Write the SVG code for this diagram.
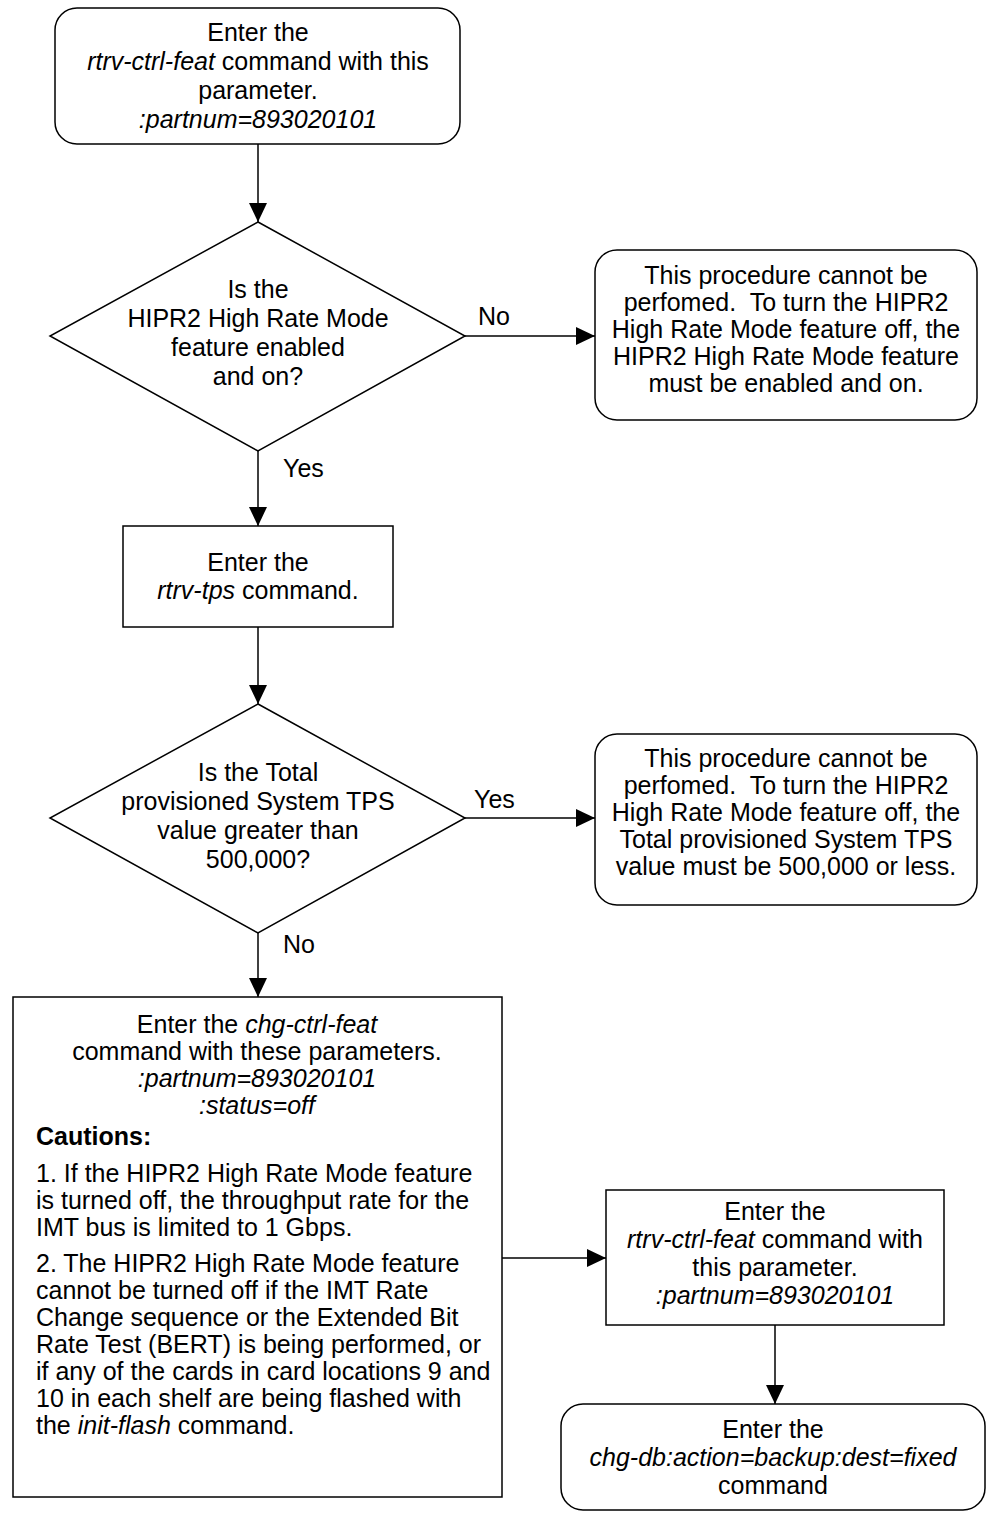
<svg xmlns="http://www.w3.org/2000/svg" width="987" height="1514" viewBox="0 0 987 1514">
<defs>
<marker id="arr" markerUnits="userSpaceOnUse" markerWidth="20" markerHeight="20" refX="19" refY="9" orient="auto">
<path d="M0,0 L19,9 L0,18 z" fill="#000"/>
</marker>
<style>
.s{fill:#fff;stroke:#000;stroke-width:1.5}
.c{fill:none;stroke:#000;stroke-width:1.5;marker-end:url(#arr)}
text{font-family:"Liberation Sans",Arial,sans-serif;font-size:25px;fill:#000}
.m{text-anchor:middle}
.i{font-style:italic}
.b{font-weight:bold}
</style>
</defs>
<rect width="987" height="1514" fill="#fff"/>
<g id="connectors">
<path class="c" d="M258,144 L258,222"/>
<path class="c" d="M465,336 L595,336"/>
<path class="c" d="M258,451 L258,526"/>
<path class="c" d="M258,627 L258,704"/>
<path class="c" d="M465,818 L595,818"/>
<path class="c" d="M258,933 L258,997"/>
<path class="c" d="M502,1258 L606,1258"/>
<path class="c" d="M775,1325 L775,1404"/>
<text x="478" y="325">No</text>
<text x="283" y="477">Yes</text>
<text x="474" y="808">Yes</text>
<text x="283" y="953">No</text>
</g>
<g id="start">
<rect class="s" x="55" y="8" width="405" height="136" rx="22"/>
<text class="m" x="258" y="41">Enter the</text>
<text class="m" x="258" y="70"><tspan class="i">rtrv-ctrl-feat</tspan> command with this</text>
<text class="m" x="258" y="99">parameter.</text>
<text class="m i" x="258" y="128">:partnum=893020101</text>
</g>
<g id="dec1">
<path class="s" d="M258,222 L465,336 L258,451 L50,336 z"/>
<text class="m" x="258" y="298">Is the</text>
<text class="m" x="258" y="327">HIPR2 High Rate Mode</text>
<text class="m" x="258" y="356">feature enabled</text>
<text class="m" x="258" y="385">and on?</text>
</g>
<g id="end1">
<rect class="s" x="595" y="250" width="382" height="170" rx="22"/>
<text class="m" x="786" y="284">This procedure cannot be</text>
<text class="m" x="786" y="311" xml:space="preserve">perfomed.  To turn the HIPR2</text>
<text class="m" x="786" y="338">High Rate Mode feature off, the</text>
<text class="m" x="786" y="365">HIPR2 High Rate Mode feature</text>
<text class="m" x="786" y="392">must be enabled and on.</text>
</g>
<g id="tps">
<rect class="s" x="123" y="526" width="270" height="101"/>
<text class="m" x="258" y="571">Enter the</text>
<text class="m" x="258" y="599"><tspan class="i">rtrv-tps</tspan> command.</text>
</g>
<g id="dec2">
<path class="s" d="M258,704 L465,818 L258,933 L50,818 z"/>
<text class="m" x="258" y="781">Is the Total</text>
<text class="m" x="258" y="810">provisioned System TPS</text>
<text class="m" x="258" y="839">value greater than</text>
<text class="m" x="258" y="868">500,000?</text>
</g>
<g id="end2">
<rect class="s" x="595" y="734" width="382" height="171" rx="22"/>
<text class="m" x="786" y="767">This procedure cannot be</text>
<text class="m" x="786" y="794" xml:space="preserve">perfomed.  To turn the HIPR2</text>
<text class="m" x="786" y="821">High Rate Mode feature off, the</text>
<text class="m" x="786" y="848">Total provisioned System TPS</text>
<text class="m" x="786" y="875">value must be 500,000 or less.</text>
</g>
<g id="chg">
<rect class="s" x="13" y="997" width="489" height="500"/>
<text class="m" x="257" y="1033">Enter the <tspan class="i">chg-ctrl-feat</tspan></text>
<text class="m" x="257" y="1060">command with these parameters.</text>
<text class="m i" x="257" y="1087">:partnum=893020101</text>
<text class="m i" x="257" y="1114">:status=off</text>
<text class="b" x="36" y="1145">Cautions:</text>
<text x="36" y="1182">1. If the HIPR2 High Rate Mode feature</text>
<text x="36" y="1209">is turned off, the throughput rate for the</text>
<text x="36" y="1236">IMT bus is limited to 1 Gbps.</text>
<text x="36" y="1272">2. The HIPR2 High Rate Mode feature</text>
<text x="36" y="1299">cannot be turned off if the IMT Rate</text>
<text x="36" y="1326">Change sequence or the Extended Bit</text>
<text x="36" y="1353">Rate Test (BERT) is being performed, or</text>
<text x="36" y="1380">if any of the cards in card locations 9 and</text>
<text x="36" y="1407">10 in each shelf are being flashed with</text>
<text x="36" y="1434">the <tspan class="i">init-flash</tspan> command.</text>
</g>
<g id="rtrv2">
<rect class="s" x="606" y="1190" width="338" height="135"/>
<text class="m" x="775" y="1220">Enter the</text>
<text class="m" x="775" y="1248"><tspan class="i">rtrv-ctrl-feat</tspan> command with</text>
<text class="m" x="775" y="1276">this parameter.</text>
<text class="m i" x="775" y="1304">:partnum=893020101</text>
</g>
<g id="backup">
<rect class="s" x="561" y="1404" width="424" height="106" rx="22"/>
<text class="m" x="773" y="1438">Enter the</text>
<text class="m i" x="773" y="1466">chg-db:action=backup:dest=fixed</text>
<text class="m" x="773" y="1494">command</text>
</g>
</svg>
